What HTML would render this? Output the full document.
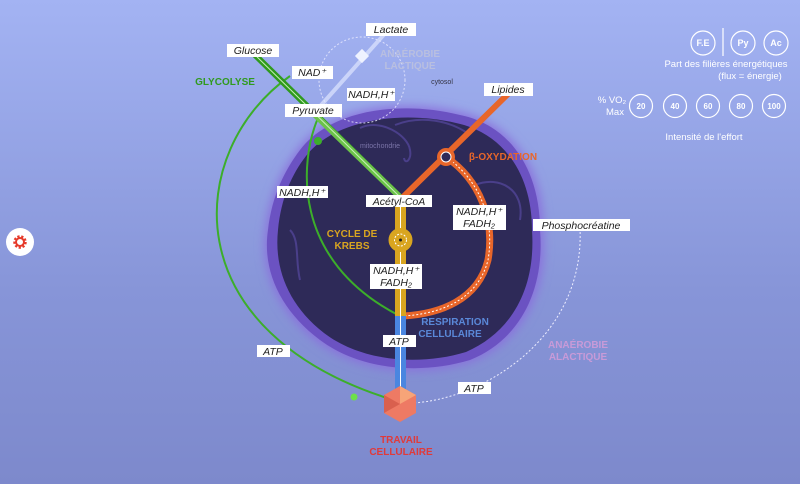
<!DOCTYPE html>
<html><head><meta charset="utf-8"><style>
html,body{margin:0;padding:0;width:800px;height:484px;overflow:hidden}
body{background:linear-gradient(#a3b3f3,#8795d8 60%,#7d89cc);font-family:"Liberation Sans",sans-serif}
svg{position:absolute;left:0;top:0}
.lb{fill:#fff}
.t{font-family:"Liberation Sans",sans-serif;font-style:italic;font-size:10.5px;fill:#222;text-anchor:middle}
.b{font-family:"Liberation Sans",sans-serif;font-weight:bold;font-size:10px;text-anchor:middle}
.w{font-family:"Liberation Sans",sans-serif;font-size:9.5px;fill:#fff;text-anchor:middle}
</style></head><body>
<svg width="800" height="484" viewBox="0 0 800 484">
<defs><filter id="gl" x="-20%" y="-20%" width="140%" height="140%"><feGaussianBlur stdDeviation="5"/></filter></defs>
<path d="M298 150 C328 108 400 98 462 113 C512 124 544 170 543 230 C548 292 522 342 470 362 C420 378 358 372 318 342 C278 312 260 270 266 230 C270 194 283 170 298 150Z" fill="#8a70dc" filter="url(#gl)"/>
<path d="M300 150 C330 110 400 100 460 115 C510 125 540 170 540 230 C545 290 520 340 470 360 C420 375 360 370 320 340 C280 310 262 270 268 230 C272 195 285 170 300 150Z" fill="#6b52c2"/>
<path d="M306 156 C334 120 400 110 456 123 C504 133 532 175 532 230 C536 288 512 332 466 352 C420 366 362 362 324 333 C288 305 274 268 278 230 C281 198 292 174 306 156Z" fill="#2e2a58"/>
<path d="M395 125 C420 115 450 120 470 135 M360 128 C380 118 408 135 410 150 C412 160 405 165 404 158" stroke="#4a3f8a" stroke-width="2" fill="none"/>
<path d="M475 185 C500 175 525 190 520 220 M290 230 C300 240 295 260 300 280" stroke="#4a3f8a" stroke-width="2" fill="none"/>
<text x="380" y="148" font-size="7" fill="#7a74a8" text-anchor="middle" font-family="Liberation Sans">mitochondrie</text>
<circle cx="362" cy="80" r="43" fill="none" stroke="#eef" stroke-width="1" stroke-dasharray="2,2" opacity=".8"/>
<line x1="388" y1="30" x2="315" y2="112" stroke="#dfe6ff" stroke-width="4" opacity=".7"/>
<rect x="357" y="51" width="10" height="10" fill="#eef2ff" transform="rotate(45 362 56)"/>
<path d="M290 76 C185 150 170 335 400 402" fill="none" stroke="#3cae2a" stroke-width="2"/>
<path d="M318 118 C300 160 290 260 400 316" fill="none" stroke="#3cae2a" stroke-width="2"/>
<circle cx="318" cy="141" r="4" fill="#3cae2a"/>
<circle cx="354" cy="397" r="3.5" fill="#6de04a"/>
<line x1="253" y1="53" x2="400" y2="197" stroke="#2f9a1e" stroke-width="6"/>
<line x1="310" y1="110" x2="400" y2="197" stroke="#6cc24a" stroke-width="6"/>
<line x1="253" y1="53" x2="400" y2="197" stroke="#c8f0b8" stroke-width="1"/>
<path d="M580 228 C585 340 480 400 412 403" fill="none" stroke="#eef" stroke-width="1" stroke-dasharray="2,2"/>
<line x1="510" y1="92" x2="400" y2="200" stroke="#e8662a" stroke-width="6"/>
<path d="M446 157 C480 180 495 220 488 260 C478 300 440 314 403 316" fill="none" stroke="#e8662a" stroke-width="7"/>
<path d="M446 157 C480 180 495 220 488 260 C478 300 440 314 403 316" fill="none" stroke="#fff" stroke-width="1" stroke-dasharray="2,2"/>
<circle cx="446" cy="157" r="9" fill="#e8662a"/><circle cx="446" cy="157" r="5" fill="#2e2a58" stroke="#fff" stroke-width="1"/>
<rect x="395" y="200" width="11" height="116" fill="#d9a520"/>
<rect x="395" y="316" width="11" height="76" fill="#4a86e0"/>
<line x1="400.5" y1="200" x2="400.5" y2="390" stroke="#fff" stroke-width="1"/>
<circle cx="400.5" cy="240" r="12" fill="#d9a520"/><circle cx="400.5" cy="240" r="6" fill="none" stroke="#fff" stroke-width="1" stroke-dasharray="2,1.5"/><circle cx="400.5" cy="240" r="1.5" fill="#222"/>
<polygon points="400,386 416,395 416,413 400,422 384,413 384,395" fill="#ee7a64"/>
<polygon points="400,386 416,395 400,404" fill="#f7a478"/>
<polygon points="384,395 400,404 384,413" fill="#d9604e"/>
<g class="lb">
<rect x="227" y="44" width="52" height="13"/><rect x="366" y="23" width="50" height="13"/>
<rect x="292" y="66" width="41" height="13"/><rect x="347" y="88" width="48" height="13"/>
<rect x="285" y="104" width="57" height="13"/><rect x="484" y="83" width="49" height="13"/>
<rect x="277" y="186" width="51" height="12"/><rect x="366" y="195" width="66" height="12"/>
<rect x="453" y="205" width="53" height="25"/><rect x="370" y="264" width="52" height="25"/>
<rect x="533" y="219" width="97" height="12"/><rect x="383" y="335" width="33" height="12"/>
<rect x="257" y="345" width="33" height="12"/><rect x="458" y="382" width="33" height="12"/>
</g>
<text class="t" x="253" y="54">Glucose</text><text class="t" x="391" y="33">Lactate</text>
<text class="t" x="312" y="76">NAD⁺</text><text class="t" x="371" y="98">NADH,H⁺</text>
<text class="t" x="313" y="114">Pyruvate</text><text class="t" x="508" y="93">Lipides</text>
<text class="t" x="302" y="196">NADH,H⁺</text><text class="t" x="399" y="205">Acétyl-CoA</text>
<text class="t" x="479" y="215">NADH,H⁺</text><text class="t" x="479" y="227">FADH₂</text>
<text class="t" x="396" y="274">NADH,H⁺</text><text class="t" x="396" y="286">FADH₂</text>
<text class="t" x="581" y="229">Phosphocréatine</text><text class="t" x="399" y="345">ATP</text>
<text class="t" x="273" y="355">ATP</text><text class="t" x="474" y="392">ATP</text>
<text class="b" x="225" y="85" fill="#2f9a1e">GLYCOLYSE</text>
<text class="b" x="410" y="57" fill="#b9bfe0">ANAÉROBIE</text><text class="b" x="410" y="69" fill="#b9bfe0">LACTIQUE</text>
<text x="442" y="84" font-size="7" fill="#334" text-anchor="middle" font-family="Liberation Sans">cytosol</text>
<text class="b" x="503" y="160" fill="#e8662a">β-OXYDATION</text>
<text class="b" x="352" y="237" fill="#d9a520">CYCLE DE</text><text class="b" x="352" y="249" fill="#d9a520">KREBS</text>
<text class="b" x="455" y="325" fill="#5a88d8">RESPIRATION</text><text class="b" x="450" y="337" fill="#5a88d8">CELLULAIRE</text>
<text class="b" x="578" y="348" fill="#c89ad8">ANAÉROBIE</text><text class="b" x="578" y="360" fill="#c89ad8">ALACTIQUE</text>
<text class="b" x="401" y="443" fill="#e03a3a">TRAVAIL</text><text class="b" x="401" y="455" fill="#e03a3a">CELLULAIRE</text>
<g fill="none" stroke="#fff" stroke-width="1.2">
<circle cx="703" cy="43" r="12"/><circle cx="743" cy="43" r="12"/><circle cx="776" cy="43" r="12"/>
<circle cx="641" cy="106" r="11.5"/><circle cx="675" cy="106" r="11.5"/><circle cx="708" cy="106" r="11.5"/><circle cx="741" cy="106" r="11.5"/><circle cx="774" cy="106" r="11.5"/>
<line x1="723" y1="28" x2="723" y2="56"/></g>
<g font-family="Liberation Sans" font-weight="bold" font-size="9" fill="#fff" text-anchor="middle">
<text x="703" y="46">F.E</text><text x="743" y="46">Py</text><text x="776" y="46">Ac</text>
<text x="641" y="109" font-size="8">20</text><text x="675" y="109" font-size="8">40</text><text x="708" y="109" font-size="8">60</text><text x="741" y="109" font-size="8">80</text><text x="774" y="109" font-size="8">100</text></g>
<text class="w" x="726" y="67">Part des filières énergétiques</text>
<text class="w" x="750" y="79">(flux = énergie)</text>
<text class="w" x="612" y="103">% VO₂</text><text class="w" x="615" y="115">Max</text>
<text class="w" x="704" y="140">Intensité de l'effort</text>
<circle cx="20" cy="242" r="14" fill="#fff"/>
<circle cx="20" cy="242" r="5" fill="none" stroke="#e63a2a" stroke-width="3.5" stroke-dasharray="2,1.5"/>
<circle cx="20" cy="242" r="4" fill="none" stroke="#e63a2a" stroke-width="2"/>
</svg>
</body></html>
